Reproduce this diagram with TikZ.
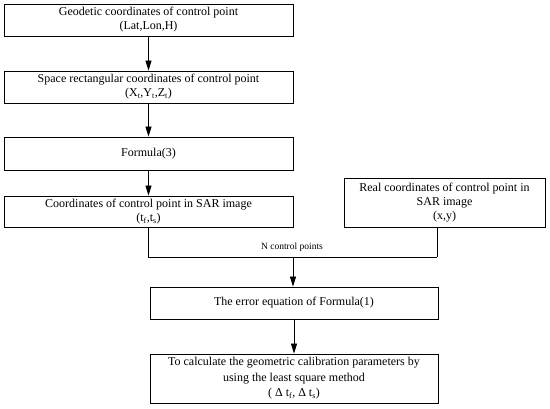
\documentclass[tikz,border=0pt]{standalone}
\usepackage{fontspec}
\setmainfont{Liberation Serif}
\usetikzlibrary{arrows.meta}
\tikzset{
  box/.style={draw, line width=0.8pt, inner sep=0pt, align=center,
    font=\fontsize{12}{14}\selectfont},
  arr/.style={line width=0.8pt, -{Triangle[length=10pt,width=6pt]}},
  conn/.style={line width=0.8pt},
  lbl/.style={font=\fontsize{9.5}{10}\selectfont, inner sep=0pt}
}
\begin{document}
\begin{tikzpicture}[x=1pt,y=-1pt]
\useasboundingbox (0,0) rectangle (550,409);
\node[box, minimum width=289pt, minimum height=32pt] (b1) at (148.5,20)
  {Geodetic coordinates of control point\\(Lat,Lon,H)};
\node[box, minimum width=289pt, minimum height=32pt] (b2) at (148.5,87)
  {Space rectangular coordinates of control point\\(X\textsubscript{t},Y\textsubscript{t},Z\textsubscript{t})};
\node[box, minimum width=289pt, minimum height=33pt] (b3) at (148.5,153.5)
  {Formula(3)};
\node[box, minimum width=289pt, minimum height=31pt] (b4) at (148.5,211.5)
  {Coordinates of control point in SAR image\\(t\textsubscript{f},t\textsubscript{s})};
\node[box, minimum width=201pt, minimum height=49pt] (r) at (444.5,202.5)
  {Real coordinates of control point in\\SAR image\\(x,y)};
\node[box, minimum width=288pt, minimum height=32pt] (b5) at (294,303)
  {The error equation of Formula(1)};
\node[box, minimum width=288pt, minimum height=49pt, font=\fontsize{12}{15.5}\selectfont] (b6) at (294,378.5)
  {To calculate the geometric calibration parameters by\\using the least square method\\( Δ t\textsubscript{f}, Δ t\textsubscript{s})};
\coordinate (j) at (437,257);
\coordinate (m) at (293,257);
\draw[arr] (b1) -- (b2);
\draw[arr] (b2) -- (b3);
\draw[arr] (b3) -- (b4);
\draw[conn] (b4.south) |- (j);
\draw[conn] (j) -- (j |- r.south);
\draw[arr] (m) -- (m |- b5.north);
\draw[arr] (b5) -- (b6);
\node[lbl] (n) at (292,247) {N control points};
\end{tikzpicture}
\end{document}
